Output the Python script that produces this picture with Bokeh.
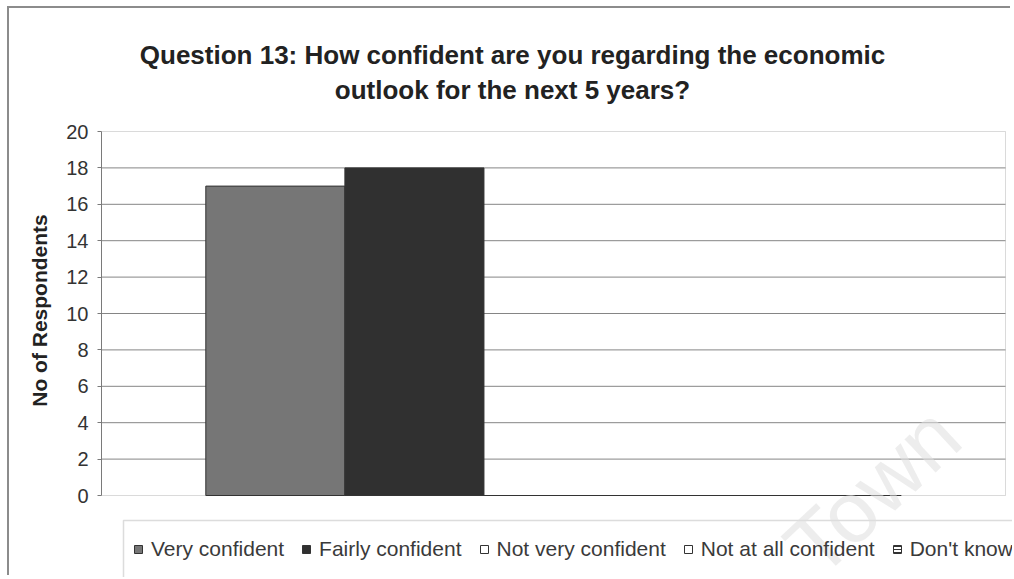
from bokeh.plotting import figure
from bokeh.models import (Range1d, FixedTicker, Label, Legend,
                          LegendItem, BoxAnnotation, ColumnDataSource)
from bokeh.embed import file_html
from bokeh.resources import INLINE

# ---- data ----
title_line1 = "Question 13: How confident are you regarding the economic"
title_line2 = "outlook for the next 5 years?"
series = ["Very confident", "Fairly confident", "Not very confident",
          "Not at all confident", "Don't know"]
counts = [17, 18, 0, 0, 0]
y_ticks = [0, 2, 4, 6, 8, 10, 12, 14, 16, 18, 20]
y_label = "No of Respondents"
watermark = "Town"

# ---- styles / layout ----
fills = ["#767676", "#303030", "#ffffff", "#ffffff", "#ffffff"]
hatches = [" ", " ", " ", " ", "horizontal_line"]
FONT = "Liberation Sans"
GRID = "#858585"

# page offset of the canvas (outer chart border drawn as a CSS shadow);
# keep the page a little inside the window so no scrollbar appears
OX, OY = 9, 8
W, H = 1003, 569
# plot area (page pixels): left 101, right 1005, y=20 at 131, y=0 at 495
PL, PR = 101, 1005
px_per_unit = (495 - 131) / 20.0
y_lo = -((OY + H) - 495) / px_per_unit
y_hi = 20 + (131 - OY) / px_per_unit
# one group of 5 bars; 0.75 bar-width gap each side inside the plot area
unit = (PR - PL) / 6.5
x_lo = -0.75
x_end = 5.75
x_hi = x_end + ((W + OX) - PR) / unit
bar_x = [i + 0.5 for i in range(len(series))]

p = figure(width=W, height=H, title=None,
           x_range=Range1d(x_lo, x_hi),
           y_range=Range1d(y_lo, y_hi),
           x_axis_location=None,
           output_backend="svg", toolbar_location=None,
           min_border_left=PL - OX, min_border_right=0,
           min_border_top=0, min_border_bottom=0)
p.styles = {"margin-left": f"{OX}px", "margin-top": f"{OY}px",
            "box-shadow": "-2px -2px 0px 0px #8c8c8c"}

p.background_fill_color = "white"
p.border_fill_color = "white"
p.outline_line_color = None

p.xgrid.grid_line_color = None
p.ygrid.grid_line_color = None

ax = p.yaxis[0]
ax.ticker = FixedTicker(ticks=y_ticks)
ax.bounds = (0, 20)
ax.major_label_text_font = FONT
ax.major_label_text_font_size = "20px"
ax.major_label_text_color = "#333333"
ax.axis_line_color = "#7a7a7a"
ax.major_tick_line_color = "#7a7a7a"
ax.minor_tick_line_color = None
ax.major_tick_in = 0
ax.major_tick_out = 4
ax.major_label_standoff = 9
# trailing no-break spaces move the centred title down onto the plot area
ax.axis_label = y_label + "\u00a0" * 6
ax.axis_label_text_font = FONT
ax.axis_label_text_font_size = "21px"
ax.axis_label_text_font_style = "bold"
ax.axis_label_text_color = "#222222"
ax.axis_label_standoff = 12

# plot-area border and horizontal gridlines, limited to the plot area
p.add_layout(BoxAnnotation(left=x_lo - 1, right=x_end, bottom=0, top=20,
                           fill_alpha=0, line_color=GRID, line_width=1,
                           level="underlay"))
grid_src = ColumnDataSource(dict(y=y_ticks[1:-1]))
p.segment(x0=x_lo, x1=x_end, y0="y", y1="y", source=grid_src,
          line_color=GRID, line_width=1, level="underlay")

items = []
for xx, s, c, f, h in zip(bar_x, series, counts, fills, hatches):
    r = p.vbar(x=[xx], top=[c], width=1.0, fill_color=f,
               line_color="#333333", line_width=1,
               hatch_pattern=h, hatch_color="#333333", hatch_scale=3,
               hatch_weight=1)
    items.append(LegendItem(label=s, renderers=[r]))

# legend box (runs off the right and bottom edges, as in the scan)
p.add_layout(BoxAnnotation(left=123 - OX, right=1040 - OX, top=520 - OY,
                           bottom=620 - OY,
                           left_units="canvas", right_units="canvas",
                           top_units="canvas", bottom_units="canvas",
                           fill_alpha=0, line_color="#8a8a8a", line_width=1.5))

legend = Legend(items=items, orientation="horizontal",
                location=(32, (OY + H) - 561),
                glyph_width=10, glyph_height=10, label_standoff=8,
                spacing=17, padding=0, margin=0, label_height=22,
                label_text_font=FONT, label_text_font_size="21px",
                label_text_color="#3a3a3a",
                border_line_color=None, background_fill_alpha=0)
p.add_layout(legend)

# title lines
for txt, yy in [(title_line1, 54), (title_line2, 89)]:
    p.add_layout(Label(x=512 - OX, y=yy - OY, x_units="canvas", y_units="canvas",
                       text=txt, text_align="center",
                       text_baseline="alphabetic", text_font=FONT,
                       text_font_size="26px", text_font_style="bold",
                       text_color="#222222"))

# faint watermark
p.add_layout(Label(x=872 - OX, y=490 - OY, x_units="canvas", y_units="canvas",
                   text=watermark, angle=43, angle_units="deg",
                   text_align="center", text_baseline="middle",
                   text_font=FONT, text_font_size="86px",
                   text_color="#dedede", text_alpha=0.55))

open("out.html", "w").write(file_html(p, INLINE))
